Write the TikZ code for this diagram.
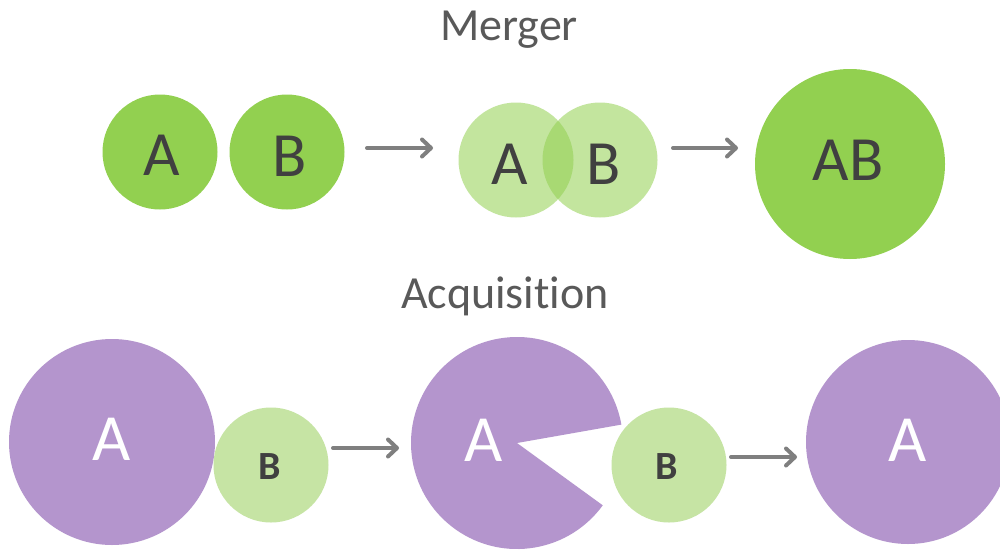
\documentclass[tikz,border=0pt]{standalone}
\usepackage{fontspec}
\setmainfont{Carlito}[Ligatures=NoCommon]
\usetikzlibrary{arrows.meta}
\definecolor{leaf}{HTML}{92D050}
\definecolor{paleleaf}{HTML}{C6E4A4}
\definecolor{lilac}{HTML}{B495CD}
\definecolor{ink}{HTML}{404040}
\definecolor{titlegray}{HTML}{595959}
\definecolor{arrowgray}{HTML}{7F7F7F}
\tikzset{
  title/.style={anchor=base, text=titlegray, font=\fontsize{46}{46}\selectfont},
  disc/.style={circle, minimum size=#1, inner sep=0pt},
  greendisc/.style={disc=#1, fill=leaf},
  palegreen/.style={disc=#1, fill=paleleaf},
  ghost/.style={disc=#1, fill=leaf, fill opacity=0.55},
  purpledisc/.style={disc=#1, fill=lilac},
  darkletter/.style={text=ink, font=\fontsize{63}{63}\selectfont},
  whiteletter/.style={text=white, font=\fontsize{66}{66}\selectfont},
  boldletter/.style={text=ink, font=\fontsize{40}{40}\selectfont\bfseries},
  flow/.style={draw=arrowgray, line width=4pt, line cap=round,
    -{Straight Barb[length=9pt, width=17pt, line cap=round, line join=round]}},
}
\begin{document}
\begin{tikzpicture}[x=1pt, y=-1pt]
\useasboundingbox (0,0) rectangle (1000,549);
\clip (0,0) rectangle (1000,549);
\fill[white] (0,0) rectangle (1000,549);

% ---- Merger ----
\node[title] (mtitle) at (509,40) {Merger};

\node[greendisc=115pt] (ma) at (160,152) {};
\node[greendisc=115pt] (mb) at (287,152) {};
\node[darkletter] (mat) at (162,155) {A};
\node[darkletter] (mbt) at (290,156) {B};

\coordinate (m1s) at (367,148);
\coordinate (m1e) at (433,148);
\draw[flow] (m1s) -- (m1e);

\node[ghost=115pt] (oa) at (516,160) {};
\node[ghost=115pt] (ob) at (600,160) {};
\node[darkletter] (oat) at (510,164) {A};
\node[darkletter] (obt) at (604,164) {B};

\coordinate (m2s) at (673,148);
\coordinate (m2e) at (738,148);
\draw[flow] (m2s) -- (m2e);

\node[greendisc=190pt] (ab) at (850,164) {};
\node[darkletter] (abt) at (848,160) {AB};

% ---- Acquisition ----
\node[title] (atitle) at (505,308) {Acquisition};

\node[purpledisc=206pt] (aa) at (112,442) {};
\node[whiteletter] (aat) at (112,439) {A};
\node[palegreen=115pt] (ba) at (271,465) {};
\node[boldletter] (bat) at (270,467) {B};

\coordinate (a1s) at (333,448);
\coordinate (a1e) at (399,448);
\draw[flow] (a1s) -- (a1e);

% biting disc with its mouth open towards B
\coordinate (pc) at (517,443);
\fill[lilac] (pc) -- ++(10:106pt) arc[start angle=10, end angle=324, radius=106pt] -- cycle;
\node[whiteletter] (pat) at (484,440) {A};
\node[palegreen=115pt] (bb) at (669,465) {};
\node[boldletter] (bbt) at (667,467) {B};

\coordinate (a2s) at (731,457);
\coordinate (a2e) at (797,457);
\draw[flow] (a2s) -- (a2e);

\node[purpledisc=204pt] (fa) at (908,442) {};
\node[whiteletter] (fat) at (908,440) {A};
\end{tikzpicture}
\end{document}
